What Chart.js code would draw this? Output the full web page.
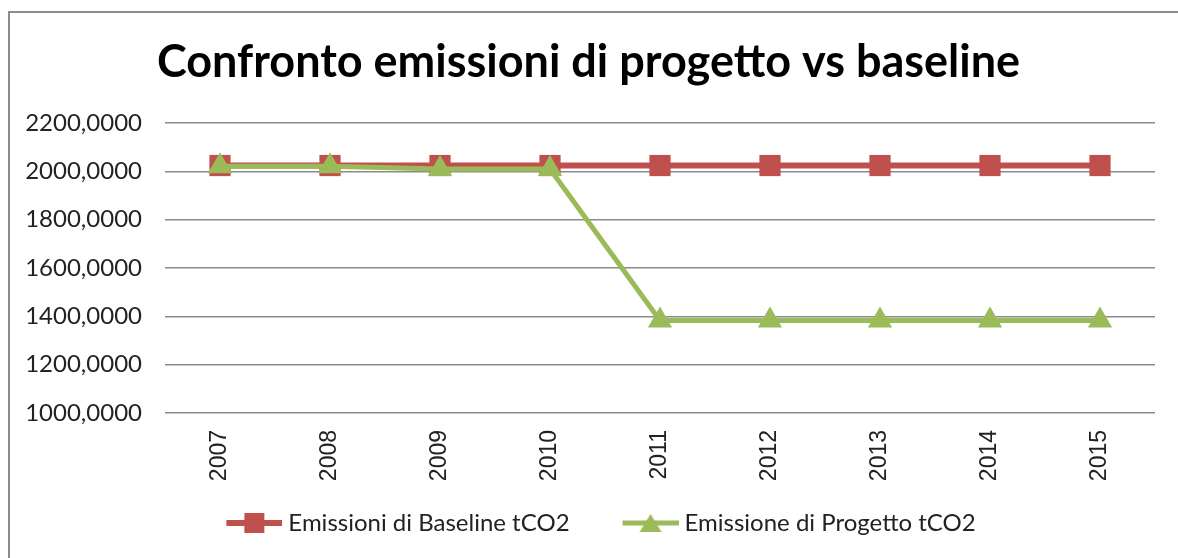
<!DOCTYPE html>
<html>
<head>
<meta charset="utf-8">
<script src="https://cdn.jsdelivr.net/npm/chart.js@4/dist/chart.umd.min.js"></script>
<style>
  html, body { margin: 0; padding: 0; background: #fff; }
  #wrap { position: relative; width: 1178px; height: 558px; overflow: hidden; }
  #frame { position: absolute; left: 8px; top: 11px; width: 1300px; height: 700px;
           border-left: 2px solid #8c8c8c; border-top: 2px solid #8c8c8c; pointer-events: none; }
</style>
</head>
<body>
<div id="wrap">
  <canvas id="chart" width="1178" height="558"></canvas>
  <div id="frame"></div>
</div>
<script>
// data
const years = ['2007', '2008', '2009', '2010', '2011', '2012', '2013', '2014', '2015'];
const baseline = [2024, 2024, 2024, 2024, 2024, 2024, 2024, 2024, 2024];
const progetto = [2021, 2021, 2010, 2010, 1383, 1383, 1383, 1383, 1383];
const yTickValues = [1000, 1200, 1400, 1600, 1800, 2000, 2200];
const yTickLabels = ['1000,0000', '1200,0000', '1400,0000', '1600,0000', '1800,0000', '2000,0000', '2200,0000'];

const RED = '#c0504d';
const GREEN = '#9bbb59';

// "line + marker" pictures for the legend, excel style (marker sits in the right 56px)
function legendMarker(kind){
  const c = document.createElement('canvas');
  c.width = 87; c.height = 24;
  const g = c.getContext('2d');
  const x0 = 31;
  g.strokeStyle = kind === 'rect' ? RED : GREEN;
  g.fillStyle = g.strokeStyle;
  g.lineWidth = kind === 'rect' ? 6 : 5;
  g.beginPath(); g.moveTo(x0, 12); g.lineTo(x0 + 56, 12); g.stroke();
  if(kind === 'rect'){
    g.fillRect(x0 + 18, 2, 20, 20);
  } else {
    g.beginPath(); g.moveTo(x0 + 28, 3); g.lineTo(x0 + 39, 21); g.lineTo(x0 + 17, 21); g.closePath(); g.fill();
  }
  return c;
}
const markers = [legendMarker('rect'), legendMarker('triangle')];

const ctx = document.getElementById('chart').getContext('2d');
new Chart(ctx, {
  type: 'line',
  data: {
    labels: years,
    datasets: [
      { label: 'Emissioni di Baseline tCO2', data: baseline, order: 2,
        borderColor: RED, backgroundColor: RED, borderWidth: 6,
        pointStyle: 'rect', pointRadius: 15, pointBorderWidth: 0, pointBackgroundColor: RED,
        tension: 0 },
      { label: 'Emissione di Progetto tCO2', data: progetto, order: 1,
        borderColor: GREEN, backgroundColor: GREEN, borderWidth: 5,
        pointStyle: 'triangle', pointRadius: 14, pointBorderWidth: 0, pointBackgroundColor: GREEN,
        tension: 0 }
    ]
  },
  options: {
    responsive: false,
    animation: false,
    layout: { padding: { top: 0, left: 22, right: 23, bottom: 13 } },
    plugins: {
      title: {
        display: true,
        text: 'Confronto emissioni di progetto vs baseline',
        color: '#000',
        font: { family: 'Lato', size: 45, weight: 'bold', lineHeight: 1.2 },
        padding: { top: 35, bottom: 34 }
      },
      legend: {
        position: 'bottom',
        labels: {
          usePointStyle: true,
          pointStyleWidth: 75,
          padding: 28,
          color: '#222',
          font: { family: 'Lato', size: 24 },
          sort: (a, b) => a.datasetIndex - b.datasetIndex,
          generateLabels: (chart) => {
            const items = Chart.defaults.plugins.legend.labels.generateLabels(chart);
            items.forEach(it => { it.pointStyle = markers[it.datasetIndex]; });
            return items;
          }
        }
      },
      tooltip: { enabled: false }
    },
    scales: {
      x: {
        offset: true,
        grid: { display: false, drawTicks: false },
        border: { display: false },
        ticks: { minRotation: 90, maxRotation: 90, padding: 17, color: '#222',
                 font: { family: 'Liberation Sans', size: 23 } },
        afterFit: (s) => { s.height = 70; }
      },
      y: {
        min: 1000, max: 2200,
        grid: { color: '#8a8a8a', lineWidth: 1.5, drawTicks: false },
        border: { display: false },
        ticks: {
          stepSize: 200, padding: 23, color: '#222',
          font: { family: 'Lato', size: 24 },
          callback: (v) => { const i = yTickValues.indexOf(v); return i >= 0 ? yTickLabels[i] : ''; }
        },
        afterFit: (s) => { s.width = 143; }
      }
    }
  }
});
</script>
</body>
</html>
